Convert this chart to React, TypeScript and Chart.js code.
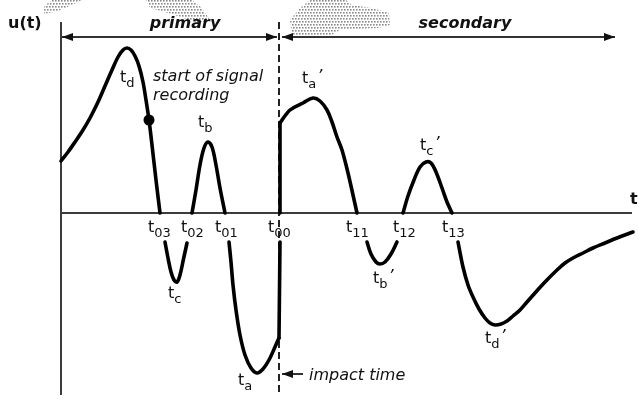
import React, { useEffect, useRef } from "react";
import { Chart, registerables } from "chart.js";

Chart.register(...registerables);

// time t (arbitrary units), amplitude u (arbitrary units)
const primaryRise: [number, number][] = [
  [0, 26], [1.4, 30.5], [2.8, 35.5], [4.4, 41.5], [5.8, 47.5], [7.4, 55.5], [8.8, 63.5],
  [10.2, 71.5], [11.4, 78], [12.4, 81.5], [13.2, 82.5], [14, 81.5], [14.8, 78.5],
  [15.6, 73.5], [16.4, 65.5], [17, 56.5], [17.6, 46.5], [18.2, 34], [19, 16.5], [19.8, 0],
];
const primaryDipC: [number, number][] = [
  [20.8, -14.5], [21.4, -22.5], [22, -29.5], [22.6, -33.5], [23.2, -34.5], [23.8, -31],
  [24.5, -23], [25.2, -15],
];
const primaryPeakB: [number, number][] = [
  [26.2, 0], [27, 11.5], [27.8, 24], [28.6, 32.5], [29.4, 35.5], [30.2, 33], [31, 24],
  [31.8, 12.5], [32.8, 0],
];
const primaryDipA: [number, number][] = [
  [33.6, -14.5], [34, -24.5], [34.4, -36], [35, -48.5], [35.8, -61], [36.8, -71], [38, -77.5],
  [39.2, -80], [40.4, -78], [41.6, -73.5], [42.8, -67], [43.6, -62.5],
];
const impactJumpLow: [number, number][] = [[43.6, -62.5], [43.8, -14.5]];
const impactJumpHigh: [number, number][] = [[43.8, 0], [43.8, 45]];
const secondaryPeakA: [number, number][] = [
  [43.8, 45], [45.8, 51.5], [48.4, 55], [50.4, 57.5], [51.8, 56], [53.2, 51.5], [54.2, 45.5],
  [55.2, 38], [56.2, 31.5], [57.4, 20], [58.4, 9], [59.2, 0],
];
const secondaryDipB: [number, number][] = [
  [61.2, -14.5], [62, -20.5], [63, -24.5], [63.8, -25.5], [64.8, -24.5], [66, -20.5], [67.2, -14.5],
];
const secondaryPeakC: [number, number][] = [
  [68.4, 0], [69.4, 8.5], [70.6, 16.5], [71.8, 23], [73, 25.5], [74, 25], [75, 20.5],
  [76.2, 12.5], [77.2, 5.5], [78.2, 0],
];
const secondaryDipD: [number, number][] = [
  [79.4, -14.5], [80.4, -27], [81.4, -36], [82.4, -42], [83.6, -48], [84.8, -52.5], [85.8, -55],
  [86.8, -56], [88, -55.5], [89.2, -54], [90.4, -51.5], [91.8, -48.5], [93.2, -44.5], [94.8, -40],
  [96.8, -34.5], [99.2, -28.5], [100.8, -25], [102.4, -22.5], [104.4, -20], [106.4, -17.5],
  [108.8, -15], [111.2, -12.5], [114.4, -9.5],
];
const recordingStart: [number, number][] = [[17.6, 46.5]];

// point labels: [main, subscript, prime, t, u]
const pointLabels: [string, string, boolean, number, number][] = [
  ["t", "d", false, 11.8, 65.5],
  ["t", "b", false, 27.4, 43],
  ["t", "c", false, 21.4, -42.5],
  ["t", "a", false, 35.4, -86],
  ["t", "03", false, 17.4, -9.5],
  ["t", "02", false, 24, -9.5],
  ["t", "01", false, 30.8, -9.5],
  ["t", "00", false, 41.4, -9.5],
  ["t", "11", false, 57, -9.5],
  ["t", "12", false, 66.4, -9.5],
  ["t", "13", false, 76.2, -9.5],
  ["t", "a", true, 48.2, 65],
  ["t", "b", true, 62.4, -35],
  ["t", "c", true, 71.8, 31.5],
  ["t", "d", true, 84.8, -65],
];

const X_MIN = -12.2;
const X_MAX = 115.6;
const Y_MIN = -94;
const Y_MAX = 106.5;
const IMPACT_T = 43.6;

const FONT = '"DejaVu Sans", Verdana, sans-serif';

function seg(data: [number, number][], tension = 0.35) {
  return {
    data: data.map(([x, y]) => ({ x, y })),
    showLine: true,
    borderColor: "#000",
    borderWidth: 3.6,
    pointRadius: 0,
    tension,
    borderCapStyle: "round" as const,
    borderJoinStyle: "round" as const,
  };
}

const diagramPlugin = {
  id: "diagram",
  beforeDatasetsDraw(chart: any) {
    const { ctx, scales } = chart;
    const X = (t: number) => scales.x.getPixelForValue(t);
    const Y = (u: number) => scales.y.getPixelForValue(u);
    ctx.save();

    // halftone smudges at top
    const blobs: [number, number][][] = [
      [[44, 14], [58, 11], [72, 5], [82, 0], [52, 0], [44, 6]],
      [[146, 0], [150, 8], [172, 14], [198, 23], [210, 20], [202, 8], [192, 0]],
      [[310, 0], [346, 0], [352, 5], [372, 8], [389, 13], [390, 25], [378, 28], [340, 30],
        [330, 36], [292, 36], [290, 20], [300, 8]],
    ];
    ctx.fillStyle = "#8a8a8a";
    for (const b of blobs) {
      ctx.save();
      ctx.beginPath();
      b.forEach(([px, py], i) => (i ? ctx.lineTo(px, py) : ctx.moveTo(px, py)));
      ctx.closePath();
      ctx.clip();
      for (let yy = 0; yy < 40; yy += 3) {
        for (let xx = 40; xx < 395; xx += 3) {
          ctx.fillRect(xx + (yy % 6 ? 1 : 0), yy, 1.6, 1.6);
        }
      }
      ctx.restore();
    }

    const line = (x1: number, y1: number, x2: number, y2: number) => {
      ctx.beginPath();
      ctx.moveTo(x1, y1);
      ctx.lineTo(x2, y2);
      ctx.stroke();
    };
    const arrowHead = (tx: number, ty: number, dir: number) => {
      ctx.beginPath();
      ctx.moveTo(tx, ty);
      ctx.lineTo(tx - dir * 11, ty - 4);
      ctx.lineTo(tx - dir * 11, ty + 4);
      ctx.closePath();
      ctx.fill();
    };

    // axes
    ctx.strokeStyle = "#3c3c3c";
    ctx.lineWidth = 2;
    line(X(0), Y(95.5), X(0), Y(-91));
    line(X(0), Y(0), X(114.2), Y(0));

    // impact time dashed line
    ctx.strokeStyle = "#222";
    ctx.setLineDash([7, 4]);
    line(X(IMPACT_T), Y(95.5), X(IMPACT_T), Y(-91));
    ctx.setLineDash([]);

    // primary / secondary spans
    ctx.strokeStyle = "#333";
    ctx.fillStyle = "#111";
    ctx.lineWidth = 2;
    const ya = Y(88);
    line(X(0.2), ya, X(43.2), ya);
    arrowHead(X(0.2), ya, -1);
    arrowHead(X(43.2), ya, 1);
    line(X(44.2), ya, X(110.8), ya);
    arrowHead(X(44.2), ya, -1);
    arrowHead(X(110.8), ya, 1);

    // impact time arrow
    const yi = Y(-80.5);
    line(X(44.2), yi, X(48.4), yi);
    arrowHead(X(44.2), yi, -1);

    ctx.restore();
  },
  afterDatasetsDraw(chart: any) {
    const { ctx, scales } = chart;
    const X = (t: number) => scales.x.getPixelForValue(t);
    const Y = (u: number) => scales.y.getPixelForValue(u);
    ctx.save();
    ctx.fillStyle = "#111";
    ctx.textBaseline = "alphabetic";

    ctx.font = `bold 16px ${FONT}`;
    ctx.textAlign = "left";
    ctx.fillText("u(t)", X(-10.6), Y(92.5));
    ctx.fillText("t", X(113.8), Y(4.5));

    ctx.font = `italic bold 16px ${FONT}`;
    ctx.textAlign = "center";
    ctx.fillText("primary", X(24.8), Y(92.5));
    ctx.fillText("secondary", X(80.8), Y(92.5));

    ctx.textAlign = "left";
    ctx.font = `italic 16px ${FONT}`;
    ctx.fillText("start of signal", X(18.4), Y(66));
    ctx.fillText("recording", X(18.4), Y(56.5));
    ctx.fillText("impact time", X(49.6), Y(-83.5));

    for (const [main, sub, prime, t, u] of pointLabels) {
      const px = X(t);
      const py = Y(u);
      ctx.font = `16px ${FONT}`;
      ctx.fillText(main, px, py);
      const w = ctx.measureText(main).width;
      ctx.font = `13px ${FONT}`;
      ctx.fillText(sub, px + w, py + 5);
      if (prime) {
        const w2 = ctx.measureText(sub).width;
        ctx.font = `italic 16px ${FONT}`;
        ctx.fillText("\u2019", px + w + w2 + 1, py - 2);
      }
    }
    ctx.restore();
  },
};

export default function App() {
  const ref = useRef<HTMLCanvasElement | null>(null);
  useEffect(() => {
    if (!ref.current) return;
    const chart = new Chart(ref.current, {
      type: "scatter",
      data: {
        datasets: [
          seg(primaryRise),
          seg(primaryDipC),
          seg(primaryPeakB),
          seg(primaryDipA),
          seg(impactJumpLow, 0),
          seg(impactJumpHigh, 0),
          seg(secondaryPeakA),
          seg(secondaryDipB),
          seg(secondaryPeakC),
          seg(secondaryDipD),
          {
            data: recordingStart.map(([x, y]) => ({ x, y })),
            showLine: false,
            pointRadius: 5.5,
            pointBackgroundColor: "#000",
            pointBorderColor: "#000",
            pointBorderWidth: 0,
          },
        ] as any,
      },
      options: {
        animation: false,
        responsive: false,
        maintainAspectRatio: false,
        layout: { padding: 0, autoPadding: false },
        plugins: { legend: { display: false }, tooltip: { enabled: false } },
        events: [],
        scales: {
          x: { type: "linear", min: X_MIN, max: X_MAX, display: false },
          y: { type: "linear", min: Y_MIN, max: Y_MAX, display: false },
        },
      },
      plugins: [diagramPlugin],
    });
    return () => chart.destroy();
  }, []);
  return (
    <div style={{ position: "fixed", left: 0, top: 0, width: 639, height: 401, background: "#fff" }}>
      <canvas ref={ref} width={639} height={401} style={{ display: "block" }} />
    </div>
  );
}
